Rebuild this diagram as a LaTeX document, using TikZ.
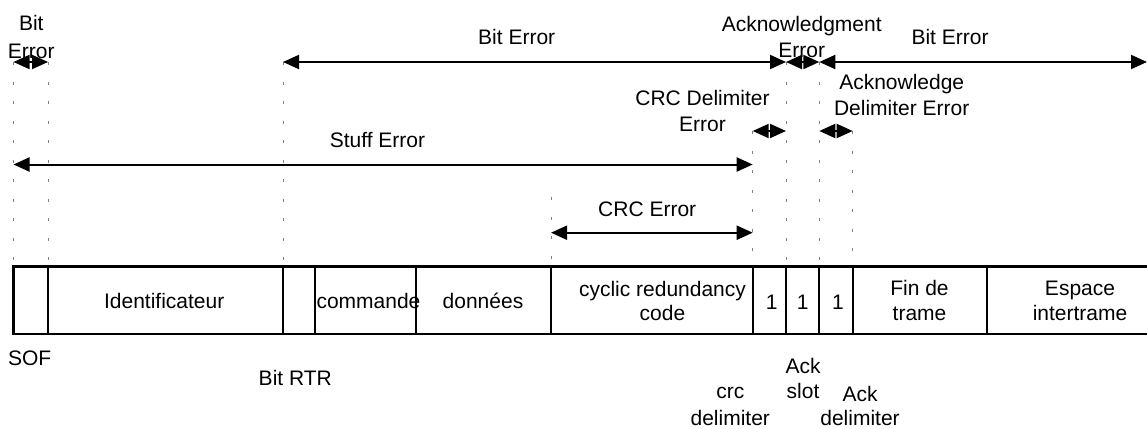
\documentclass[tikz,border=0pt]{standalone}
\usepackage{fontspec}
\setmainfont{Liberation Sans}
\usetikzlibrary{arrows.meta}
\begin{document}
\begin{tikzpicture}[x=1pt,y=-1pt,
  txt/.style={font=\fontsize{21}{25.5}\selectfont, inner sep=0pt, outer sep=0pt, align=center, anchor=base},
  cell/.style={draw=black, line width=2.2pt, minimum height=67.5pt, inner sep=0pt, outer sep=0pt, anchor=north west},
  dim/.style={line width=2pt, {Triangle[length=16pt,width=14pt]}-{Triangle[length=16pt,width=14pt]}},
  guide/.style={draw=gray, line width=1pt, dash pattern=on 3pt off 16.5pt}
]
\useasboundingbox (0,0) rectangle (1147,428);

% frame cells
\node[cell, minimum width=34.5pt] (sof) at (13.5,266.5) {};
\node[cell, minimum width=235pt] (id) at (sof.north east) {};
\node[cell, minimum width=32pt] (rtr) at (id.north east) {};
\node[cell, minimum width=101pt] (cmd) at (rtr.north east) {};
\node[cell, minimum width=135pt] (data) at (cmd.north east) {};
\node[cell, minimum width=201.7pt] (crc) at (data.north east) {};
\node[cell, minimum width=33.3pt] (crcd) at (crc.north east) {};
\node[cell, minimum width=33.3pt] (ack) at (crcd.north east) {};
\node[cell, minimum width=33.4pt] (ackd) at (ack.north east) {};
\node[cell, minimum width=134pt] (eof) at (ackd.north east) {};
\node[cell, minimum width=190pt] (ifs) at (eof.north east) {};

% arrow end points
\coordinate (ta) at (sof.north west |- 0,62);
\coordinate (tb) at (sof.north east |- 0,62);
\coordinate (tc) at (id.north east |- 0,62);
\coordinate (td) at (ack.north west |- 0,62);
\coordinate (te) at (ack.north east |- 0,62);
\coordinate (tf) at (1147,62);
\coordinate (sa) at (sof.north west |- 0,164.5);
\coordinate (sb) at (crc.north east |- 0,164.5);
\coordinate (ca) at (crc.north west |- 0,232.7);
\coordinate (cb) at (crc.north east |- 0,232.7);
\coordinate (cg) at (crc.north west |- 0,197);
\coordinate (da) at (crcd.north west |- 0,131);
\coordinate (db) at (crcd.north east |- 0,131);
\coordinate (ea) at (ackd.north west |- 0,131);
\coordinate (eb) at (ackd.north east |- 0,131);

% guide lines
\draw[guide] (ta) -- (sof.north west);
\draw[guide] (tb) -- (sof.north east);
\draw[guide] (tc) -- (id.north east);
\draw[guide] (cg) -- (crc.north west);
\draw[guide] (da) -- (crc.north east);
\draw[guide] (td) -- (ack.north west);
\draw[guide] (te) -- (ack.north east);
\draw[guide] (eb) -- (ackd.north east);

% dimension arrows
\draw[dim] (ta) -- (tb);
\draw[dim] (tc) -- (td);
\draw[dim] (td) -- (te);
\draw[dim] (te) -- (tf);
\draw[dim] (sa) -- (sb);
\draw[dim] (ca) -- (cb);
\draw[dim] (da) -- (db);
\draw[dim] (ea) -- (eb);

% error labels (base = last line's baseline)
\node[txt] (lbe) at (31.3,58.3) {Bit\\[2.5pt]Error};
\node[txt] (lbm) at (516.7,45) {Bit Error};
\node[txt] (lack) at (801.7,57.3) {Acknowledgment\\[0.5pt]Error};
\node[txt] (lbr) at (950,45) {Bit Error};
\node[txt] (lcrcd) at (702.5,131) {CRC Delimiter\\[0.5pt]Error};
\node[txt] (lackd) at (901.7,115.7) {Acknowledge\\[0.8pt]Delimiter Error};
\node[txt] (lstuff) at (377.5,147.7) {Stuff Error};
\node[txt] (lcrc) at (647.2,216.7) {CRC Error};

% cell texts
\node[txt] (tid) at (164.2,308.3) {Identificateur};
\node[txt, anchor=base west] (tcmd) at (316.5,308.3) {commande};
\node[txt] (tdata) at (483,308.3) {données};
\node[txt] (tcrc) at (662.5,320) {cyclic redundancy\\[-2pt]code};
\node[txt] (t1a) at (771.7,309.3) {1};
\node[txt] (t1b) at (802.7,309.3) {1};
\node[txt] (t1c) at (838,309.3) {1};
\node[txt] (teof) at (919.5,320) {Fin de\\[-0.5pt]trame};
\node[txt] (tifs) at (1080,320) {Espace\\[-0.5pt]intertrame};

% field names below
\node[txt] (bsof) at (29.7,365) {SOF};
\node[txt] (brtr) at (295.3,385) {Bit RTR};
\node[txt] (bcrcd) at (730.3,425.5) {crc\\[1.5pt]delimiter};
\node[txt] (back) at (803,398.3) {Ack\\[-1pt]slot};
\node[txt] (backd) at (860,425.5) {Ack\\[-1.5pt]delimiter};
\end{tikzpicture}
\end{document}
